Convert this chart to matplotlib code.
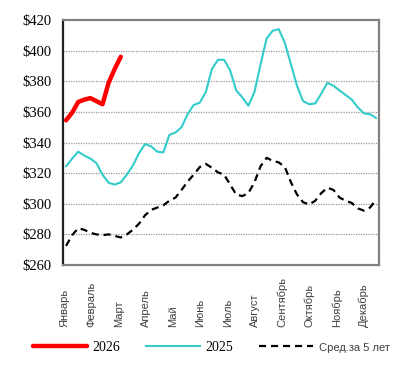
import matplotlib.pyplot as plt
import numpy as np

# weekly prices, USD
price_2026 = [354.5, 359.5, 366.5, 368, 369, 367, 365, 379, 388, 396]
price_2025 = [324.5, 329.5, 334, 331.5, 329.5, 326.5, 319, 313.7, 312.5, 314,
              319, 325, 333, 339, 337.5, 334, 333.5, 345, 346.5, 350,
              358.5, 364.5, 366, 373, 388, 394, 394, 387, 374, 369.5,
              364, 373, 391, 408, 413, 414, 405, 391, 377, 367,
              365, 365.5, 372, 379, 377, 374, 371, 368, 363, 359,
              358.5, 356]
avg_5y = [272.5, 279.5, 284, 283, 281, 280, 279.5, 280, 279, 278,
          280, 283, 287, 292.5, 296, 297.5, 299, 302, 304, 309,
          314.5, 319, 324, 326, 323.5, 320.5, 319, 312.5, 306, 305,
          307, 314, 324.5, 330, 328, 327, 324, 314, 306, 301,
          299.5, 302, 307, 310.5, 309, 304, 302, 300.5, 297, 295.5,
          297.5, 302.5]
months = ["Январь", "Февраль", "Март", "Апрель", "Май", "Июнь", "Июль",
          "Август", "Сентябрь", "Октябрь", "Ноябрь", "Декабрь"]
y_ticks = [260, 280, 300, 320, 340, 360, 380, 400, 420]

fig = plt.figure(figsize=(4.05, 3.69), dpi=100)
ax = fig.add_axes([0.1556, 0.2818, 0.7804, 0.664])

ln26, = ax.plot(range(len(price_2026)), price_2026, color="#ff0000", lw=3.2,
                solid_capstyle="round", label="2026", zorder=4)
ln25, = ax.plot(range(len(price_2025)), price_2025, color="#33cccc", lw=1.5,
                label="2025", zorder=3)
lnav, = ax.plot(range(len(avg_5y)), avg_5y, color="black", lw=1.6,
                dashes=(3.2, 2.2), label="Сред.за 5 лет", zorder=3)

ax.set_xlim(-0.5, 51.5)
ax.set_ylim(260, 420)
ax.set_yticks(y_ticks)
ax.set_yticklabels([f"${v}" for v in y_ticks], family="Liberation Serif",
                   fontsize=10.5)
ax.tick_params(axis="y", length=0, pad=8)
ax.set_xticks([])
for v in y_ticks[1:-1]:
    ax.axhline(v, color="#999999", lw=0.9, ls=(0, (1, 1)), zorder=1)

for s in ["top", "right", "bottom"]:
    ax.spines[s].set_color("#808080")
    ax.spines[s].set_linewidth(1.6)
ax.spines["left"].set_color("#202020")
ax.spines["left"].set_linewidth(1.6)

month_pos = np.linspace(-0.3, 49.0, len(months))
for p, m in zip(month_pos, months):
    ax.text(p, -0.253, m, transform=ax.get_xaxis_transform(), rotation=90,
            ha="center", va="bottom", fontsize=8, color="#404040",
            family="Liberation Sans")

leg = ax.legend(handles=[ln26, ln25, lnav], ncol=3, frameon=False,
                loc="center left", bbox_to_anchor=(-0.135, -0.336),
                handlelength=3.9, columnspacing=1.85, handletextpad=0.4,
                prop={"family": "Liberation Serif", "size": 10})
for t in leg.get_texts()[2:]:
    t.set_family("Liberation Sans")
    t.set_fontsize(8)
    t.set_color("#404040")

fig.savefig("out.png", dpi=100)
